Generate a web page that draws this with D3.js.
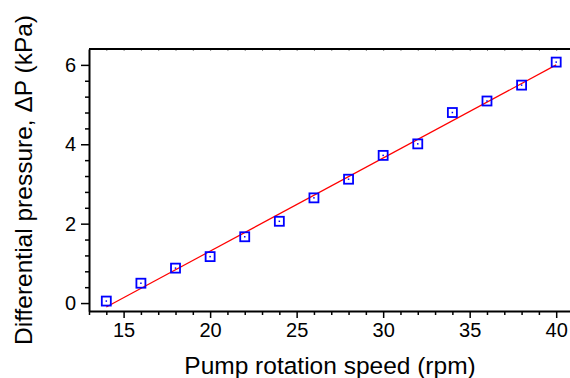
<!DOCTYPE html>
<html>
<head>
<meta charset="utf-8">
<script src="https://cdn.jsdelivr.net/npm/d3@7"></script>
<style>
  body { margin: 0; background: #fff; }
  svg { display: block; font-family: 'Liberation Sans', Arial, sans-serif; }
</style>
</head>
<body>
<svg width="570" height="378"></svg>
<script>
// measured points
const speed = [14, 16, 18, 20, 22, 24, 26, 28, 30, 32, 34, 36, 38, 40]
const dp = [0.05, 0.50, 0.88, 1.17, 1.67, 2.06, 2.65, 3.12, 3.72, 4.01, 4.80, 5.09, 5.49, 6.07]

// linear fit, end points
const fitX = [14, 40]
const fitY = [-0.1, 6.0]

const xMajor = [15, 20, 25, 30, 35, 40]
const xMinor = [13, 14, 16, 17, 18, 19, 21, 22, 23, 24, 26, 27, 28, 29, 31, 32, 33, 34, 36, 37, 38, 39, 41]
const yMajor = [0, 2, 4, 6]
const yMinor = [0.4, 0.8, 1.2, 1.6, 2.4, 2.8, 3.2, 3.6, 4.4, 4.8, 5.2, 5.6]

const plotL = 89
const plotR = 573.5
const plotT = 49
const plotB = 311

let svg = d3.select('svg')

let x = d3.scaleLinear().domain([13, 41]).range([plotL, plotR])
let y = d3.scaleLinear().domain([-0.2, 6.4]).range([plotB, plotT])

// minor ticks first, then majors with labels
svg.append('g')
  .attr('transform', `translate(0, ${plotB})`)
  .call(d3.axisBottom(x).tickValues(xMinor).tickSize(4).tickSizeOuter(0).tickFormat(''))
  .call(g => g.select('.domain').remove())
  .selectAll('line').attr('stroke-width', 1.5)

svg.append('g')
  .attr('transform', `translate(${plotL}, 0)`)
  .call(d3.axisLeft(y).tickValues(yMinor).tickSize(4).tickSizeOuter(0).tickFormat(''))
  .call(g => g.select('.domain').remove())
  .selectAll('line').attr('stroke-width', 1.5)

// faint inward ticks along the top edge
svg.append('g')
  .attr('transform', `translate(0, ${plotT})`)
  .call(d3.axisBottom(x).tickValues(xMajor.concat(xMinor)).tickSize(2).tickSizeOuter(0).tickFormat(''))
  .call(g => g.select('.domain').remove())
  .selectAll('line').attr('stroke-width', 1).attr('stroke', '#888')

let xAxis = svg.append('g')
  .attr('transform', `translate(0, ${plotB})`)
  .call(d3.axisBottom(x).tickValues(xMajor).tickSize(7).tickSizeOuter(0).tickPadding(5))

xAxis.select('.domain').attr('stroke-width', 2)
xAxis.selectAll('line').attr('stroke-width', 1.5)
xAxis.selectAll('text').attr('font-size', 20).attr('font-family', 'Liberation Sans, Arial, sans-serif').attr('fill', '#000')

let yAxis = svg.append('g')
  .attr('transform', `translate(${plotL}, 0)`)
  .call(d3.axisLeft(y).tickValues(yMajor).tickFormat(d3.format('d')).tickSize(8).tickSizeOuter(0).tickPadding(5))

yAxis.select('.domain').attr('stroke-width', 2)
yAxis.selectAll('line').attr('stroke-width', 1.5)
yAxis.selectAll('text').attr('font-size', 20).attr('font-family', 'Liberation Sans, Arial, sans-serif').attr('fill', '#000')

// top and right frame
svg.append('line')
  .attr('x1', plotL).attr('x2', plotR)
  .attr('y1', plotT).attr('y2', plotT)
  .attr('stroke', '#000').attr('stroke-width', 2)

svg.append('line')
  .attr('x1', plotR).attr('x2', plotR)
  .attr('y1', plotT).attr('y2', plotB)
  .attr('stroke', '#000').attr('stroke-width', 2)

// fit line
svg.append('line')
  .attr('x1', x(fitX[0])).attr('y1', y(fitY[0]))
  .attr('x2', x(fitX[1])).attr('y2', y(fitY[1]))
  .attr('stroke', '#ff0000').attr('stroke-width', 1.2)

let pts = svg.append('g')
  .selectAll('g')
  .data(speed)
  .enter()
  .append('g')
  .attr('transform', (d, i) => `translate(${x(d)}, ${y(dp[i])})`)

pts.append('rect')
  .attr('x', -4.5).attr('y', -4.5)
  .attr('width', 9).attr('height', 9)
  .attr('fill', 'none')
  .attr('stroke', '#0000ff')
  .attr('stroke-width', 1.8)

pts.append('rect')
  .attr('x', -0.75).attr('y', -0.75)
  .attr('width', 1.5).attr('height', 1.5)
  .attr('fill', '#0000ff')

svg.append('text')
  .text('Pump rotation speed (rpm)')
  .attr('x', 330)
  .attr('y', 374)
  .attr('text-anchor', 'middle')
  .attr('font-size', 24.5)

svg.append('text')
  .text('Differential pressure, \u0394P (kPa)')
  .attr('transform', 'translate(32, 180) rotate(-90)')
  .attr('text-anchor', 'middle')
  .attr('font-size', 24.5)
</script>
</body>
</html>
